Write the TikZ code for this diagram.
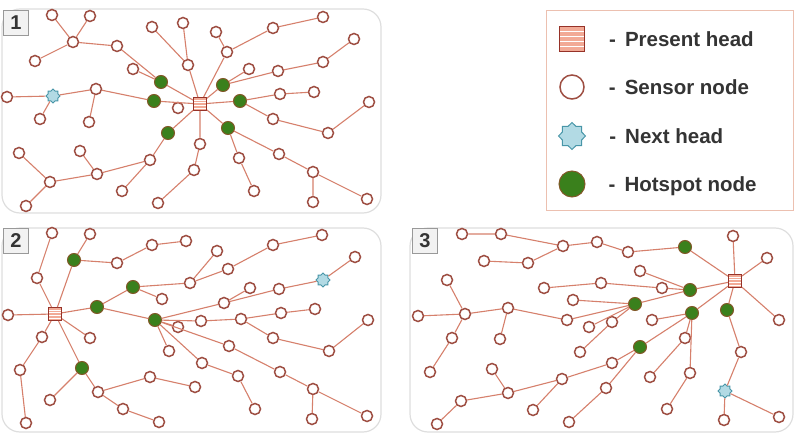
\documentclass[tikz,border=0pt]{standalone}
\usepackage{fontspec}
\setmainfont{Liberation Sans}
\usepackage{xcolor}
\usepackage{tikz}
\usetikzlibrary{shapes.geometric, positioning}
\definecolor{wsnedge}{RGB}{214,128,108}
\definecolor{wsnring}{RGB}{158,78,66}
\definecolor{wsngreen}{RGB}{58,128,28}
\definecolor{wsngreenring}{RGB}{130,88,40}
\definecolor{wsnhead}{RGB}{150,50,40}
\definecolor{wsnheadfill}{RGB}{242,170,150}
\definecolor{wsnstar}{RGB}{72,150,168}
\definecolor{wsnstarfill}{RGB}{178,218,228}
\definecolor{wsnpanel}{RGB}{222,222,222}
\definecolor{wsnlegend}{RGB}{236,192,176}
\definecolor{wsntext}{RGB}{52,52,52}
\tikzset{
  sensor/.style     = {circle, draw=wsnring, line width=1.5pt, fill=white,
                       minimum size=11pt, inner sep=0pt},
  hotspot/.style    = {circle, draw=wsngreenring, line width=1pt, fill=wsngreen,
                       minimum size=13pt, inner sep=0pt},
  headnode/.style   = {rectangle, draw=wsnhead, line width=1pt, fill=wsnheadfill,
                       minimum size=#1, inner sep=0pt,
                       path picture={\foreach \k in {0.2,0.4,0.6,0.8}
                         \draw[white, line width=0.7pt]
                           ([yshift=\k*#1]path picture bounding box.south west) --
                           ([yshift=\k*#1]path picture bounding box.south east);}},
  headnode/.default = 13pt,
  nexthead/.style   = {star, star points=8, star point ratio=1.3, draw=wsnstar,
                       line width=1pt, fill=wsnstarfill, minimum size=#1, inner sep=0pt},
  nexthead/.default = 14pt,
  link/.style       = {draw=wsnedge, line width=1.1pt},
  panel/.style      = {draw=wsnpanel, line width=1.2pt, rounded corners=18pt, fill=white},
  legbox/.style     = {draw=wsnlegend, line width=1pt, fill=white},
  tag/.style        = {rectangle, draw=black!40, line width=1pt, fill=black!5, text=wsntext,
                       minimum size=25pt, inner sep=0pt, font=\fontsize{20}{20}\selectfont\bfseries},
  legtext/.style    = {text=wsntext, inner sep=0pt, text depth=0pt,
                       font=\fontsize{20.5}{24}\selectfont\bfseries},
}
\begin{document}
\begin{tikzpicture}[x=1pt, y=-1pt]
  \useasboundingbox (0,0) rectangle (801,438);
  % frames
  \draw[panel] (2,9) rectangle (381,213);
  \draw[panel] (2,228) rectangle (381,432);
  \draw[panel] (410,228) rectangle (793,432);
  \node[tag] (tag1) at (16,23) {1};
  \node[tag] (tag2) at (16,241) {2};
  \node[tag] (tag3) at (425,241) {3};
  % legend
  \draw[legbox] (546,11) rectangle (793,211);
  \node[headnode=25pt] (lhead) at (572,39) {};
  \node[legtext, right=24pt of lhead] (lheadtx) {-\hspace{9pt}Present head};
  \node[sensor, minimum size=24pt] (lsensor) at (572,87) {};
  \node[legtext, right=24pt of lsensor] (lsensortx) {-\hspace{9pt}Sensor node};
  \node[nexthead=27pt] (lnext) at (572,136) {};
  \node[legtext, right=23pt of lnext] (lnexttx) {-\hspace{9pt}Next head};
  \node[hotspot, minimum size=26pt] (lhot) at (572,184) {};
  \node[legtext, right=23pt of lhot] (lhottx) {-\hspace{9pt}Hotspot node};

  % panel 1
  \node[headnode] (ah) at (200,104) {};
  \node[nexthead] (as) at (53,96) {};
  \node[hotspot] (ag1) at (161,82) {}; \node[hotspot] (ag2) at (154,101) {}; \node[hotspot] (ag3) at (168,133) {};
  \node[hotspot] (ag4) at (223,85) {}; \node[hotspot] (ag5) at (240,101) {}; \node[hotspot] (ag6) at (228,128) {};
  \node[sensor] (a1) at (52,15) {};   \node[sensor] (a2) at (90,16) {};   \node[sensor] (a3) at (73,42) {};
  \node[sensor] (a4) at (117,46) {};  \node[sensor] (a5) at (35,61) {};   \node[sensor] (a6) at (152,27) {};
  \node[sensor] (a7) at (183,23) {};  \node[sensor] (a8) at (188,65) {};  \node[sensor] (a9) at (133,69) {};
  \node[sensor] (a10) at (178,108) {}; \node[sensor] (a11) at (7,97) {};  \node[sensor] (a12) at (96,89) {};
  \node[sensor] (a13) at (40,119) {}; \node[sensor] (a14) at (89,122) {}; \node[sensor] (a15) at (200,144) {};
  \node[sensor] (a16) at (19,153) {}; \node[sensor] (a17) at (80,151) {}; \node[sensor] (a18) at (150,160) {};
  \node[sensor] (a19) at (97,174) {}; \node[sensor] (a20) at (50,182) {}; \node[sensor] (a21) at (194,170) {};
  \node[sensor] (a22) at (122,191) {}; \node[sensor] (a23) at (26,206) {}; \node[sensor] (a24) at (158,203) {};
  \node[sensor] (a25) at (216,32) {}; \node[sensor] (a26) at (227,52) {}; \node[sensor] (a27) at (273,28) {};
  \node[sensor] (a28) at (323,17) {}; \node[sensor] (a29) at (249,69) {}; \node[sensor] (a30) at (278,71) {};
  \node[sensor] (a31) at (323,62) {}; \node[sensor] (a32) at (354,39) {}; \node[sensor] (a33) at (280,94) {};
  \node[sensor] (a34) at (314,92) {}; \node[sensor] (a35) at (273,119) {}; \node[sensor] (a36) at (328,133) {};
  \node[sensor] (a37) at (369,102) {}; \node[sensor] (a38) at (239,158) {}; \node[sensor] (a39) at (279,154) {};
  \node[sensor] (a40) at (254,191) {}; \node[sensor] (a41) at (313,172) {}; \node[sensor] (a42) at (313,202) {};
  \node[sensor] (a43) at (367,199) {};
  \draw[link] (a1)--(a3) (a2)--(a3) (a3)--(a5) (a3)--(a4) (a4)--(ag1) (a9)--(ag1) (ag1)--(ah)
              (a6)--(a8) (a7)--(a8) (a8)--(ah) (a11)--(as) (as)--(a12) (as)--(a13) (a12)--(a14)
              (a12)--(ag2) (ag2)--(ah) (ag3)--(ah) (ag3)--(a18) (a18)--(a19) (a18)--(a22)
              (a19)--(a17) (a19)--(a20) (a20)--(a16) (a20)--(a23) (a15)--(ah) (a15)--(a21) (a21)--(a24)
              (a25)--(a26) (a26)--(a27) (a27)--(a28) (a26)--(ah) (a29)--(ag4) (ag4)--(a30) (a30)--(a31)
              (a31)--(a32) (ag4)--(ah) (ah)--(ag5) (ag5)--(a33) (a33)--(a34) (ag5)--(a35) (a35)--(a36)
              (a36)--(a37) (ah)--(ag6) (ag6)--(a38) (a38)--(a40) (ag6)--(a39) (a39)--(a41) (a41)--(a42)
              (a41)--(a43);

  % panel 2
  \node[headnode] (bh) at (55,314) {};
  \node[nexthead] (bs) at (323,280) {};
  \node[hotspot] (bg1) at (74,260) {}; \node[hotspot] (bg2) at (133,287) {}; \node[hotspot] (bg3) at (97,307) {};
  \node[hotspot] (bg4) at (155,320) {}; \node[hotspot] (bg5) at (82,368) {};
  \node[sensor] (b1) at (52,233) {};  \node[sensor] (b2) at (90,234) {};  \node[sensor] (b3) at (37,278) {};
  \node[sensor] (b4) at (117,263) {}; \node[sensor] (b5) at (152,245) {}; \node[sensor] (b6) at (186,241) {};
  \node[sensor] (b7) at (190,283) {}; \node[sensor] (b8) at (162,299) {}; \node[sensor] (b9) at (8,315) {};
  \node[sensor] (b10) at (178,327) {}; \node[sensor] (b11) at (42,337) {}; \node[sensor] (b12) at (90,338) {};
  \node[sensor] (b13) at (169,351) {}; \node[sensor] (b14) at (20,370) {}; \node[sensor] (b15) at (150,377) {};
  \node[sensor] (b16) at (195,387) {}; \node[sensor] (b17) at (98,392) {}; \node[sensor] (b18) at (50,400) {};
  \node[sensor] (b19) at (123,409) {}; \node[sensor] (b20) at (159,422) {}; \node[sensor] (b21) at (26,423) {};
  \node[sensor] (b22) at (217,251) {}; \node[sensor] (b23) at (228,269) {}; \node[sensor] (b24) at (273,245) {};
  \node[sensor] (b25) at (322,235) {}; \node[sensor] (b26) at (250,288) {}; \node[sensor] (b27) at (279,289) {};
  \node[sensor] (b28) at (355,257) {}; \node[sensor] (b29) at (224,303) {}; \node[sensor] (b30) at (201,321) {};
  \node[sensor] (b31) at (241,319) {}; \node[sensor] (b32) at (281,313) {}; \node[sensor] (b33) at (315,309) {};
  \node[sensor] (b34) at (273,338) {}; \node[sensor] (b35) at (329,351) {}; \node[sensor] (b36) at (368,320) {};
  \node[sensor] (b37) at (229,346) {}; \node[sensor] (b38) at (202,363) {}; \node[sensor] (b39) at (238,376) {};
  \node[sensor] (b40) at (280,372) {}; \node[sensor] (b41) at (255,409) {}; \node[sensor] (b42) at (313,389) {};
  \node[sensor] (b43) at (312,419) {}; \node[sensor] (b44) at (367,416) {};
  \draw[link] (b1)--(b3) (b3)--(bh) (b2)--(bg1) (bg1)--(bh) (bg1)--(b4) (b4)--(b5) (b5)--(b6)
              (bh)--(bg3) (bg3)--(bg2) (bg2)--(b7) (bg2)--(b8) (bg3)--(bg4) (bh)--(b9) (bh)--(b12)
              (bh)--(b11) (b11)--(b14) (b14)--(b21) (bh)--(bg5) (bg5)--(b18) (bg5)--(b17) (b17)--(b15)
              (b15)--(b16) (b17)--(b19) (b19)--(b20) (bg4)--(b10) (bg4)--(b13)
              (b7)--(b22) (b7)--(b23) (b23)--(b24) (b24)--(b25)
              (bg4)--(b29) (b29)--(b26) (b29)--(b27) (b27)--(bs) (bs)--(b28)
              (bg4)--(b30) (b30)--(b31) (b31)--(b32) (b32)--(b33) (b31)--(b34) (b34)--(b35) (b35)--(b36)
              (bg4)--(b37) (b37)--(b40) (b40)--(b42) (b42)--(b43) (b42)--(b44)
              (bg4)--(b38) (b38)--(b39) (b39)--(b41);

  % panel 3
  \node[headnode] (ch) at (735,281) {};
  \node[nexthead] (cs) at (725,391) {};
  \node[hotspot] (cg1) at (685,247) {}; \node[hotspot] (cg2) at (690,290) {}; \node[hotspot] (cg3) at (635,304) {};
  \node[hotspot] (cg4) at (692,313) {}; \node[hotspot] (cg5) at (727,310) {}; \node[hotspot] (cg6) at (640,347) {};
  \node[sensor] (c1) at (462,234) {}; \node[sensor] (c2) at (501,234) {}; \node[sensor] (c3) at (563,246) {};
  \node[sensor] (c4) at (597,242) {}; \node[sensor] (c5) at (484,261) {}; \node[sensor] (c6) at (528,263) {};
  \node[sensor] (c7) at (447,280) {}; \node[sensor] (c8) at (544,288) {}; \node[sensor] (c9) at (601,283) {};
  \node[sensor] (c10) at (573,300) {}; \node[sensor] (c11) at (418,316) {}; \node[sensor] (c12) at (465,314) {};
  \node[sensor] (c13) at (508,308) {}; \node[sensor] (c14) at (567,320) {}; \node[sensor] (c15) at (589,327) {};
  \node[sensor] (c16) at (452,338) {}; \node[sensor] (c17) at (500,339) {}; \node[sensor] (c18) at (580,352) {};
  \node[sensor] (c19) at (430,372) {}; \node[sensor] (c20) at (492,369) {}; \node[sensor] (c21) at (562,379) {};
  \node[sensor] (c22) at (508,393) {}; \node[sensor] (c23) at (606,388) {}; \node[sensor] (c24) at (461,401) {};
  \node[sensor] (c25) at (533,410) {}; \node[sensor] (c26) at (437,424) {}; \node[sensor] (c27) at (569,422) {};
  \node[sensor] (c28) at (628,252) {}; \node[sensor] (c29) at (733,236) {}; \node[sensor] (c30) at (640,271) {};
  \node[sensor] (c31) at (662,288) {}; \node[sensor] (c32) at (767,258) {}; \node[sensor] (c33) at (612,322) {};
  \node[sensor] (c34) at (652,320) {}; \node[sensor] (c35) at (685,338) {}; \node[sensor] (c36) at (779,320) {};
  \node[sensor] (c37) at (741,352) {}; \node[sensor] (c38) at (612,363) {}; \node[sensor] (c39) at (690,373) {};
  \node[sensor] (c40) at (650,377) {}; \node[sensor] (c41) at (667,409) {}; \node[sensor] (c42) at (724,420) {};
  \node[sensor] (c43) at (779,417) {};
  \draw[link] (c1)--(c2) (c2)--(c3) (c3)--(c4) (c3)--(c6) (c6)--(c5) (c4)--(c28) (c28)--(cg1) (cg1)--(ch)
              (c29)--(ch) (c32)--(ch) (ch)--(c36) (ch)--(cg5) (ch)--(cg4) (ch)--(cg2) (cg5)--(c37)
              (c37)--(cs) (cs)--(c42) (cs)--(c43) (c8)--(c9) (c9)--(c31) (c31)--(cg2) (c30)--(cg2)
              (cg3)--(cg2) (c10)--(cg3) (c13)--(c14) (c14)--(cg3) (c15)--(cg3) (c18)--(c33) (c33)--(cg3)
              (c13)--(c12) (c13)--(c17) (c12)--(c11) (c12)--(c7) (c12)--(c16) (c16)--(c19)
              (c20)--(c22) (c22)--(c21) (c22)--(c24) (c24)--(c26) (c21)--(c25) (c21)--(c38) (c38)--(cg6)
              (c27)--(c23) (c23)--(cg6) (cg4)--(c34) (cg4)--(cg6) (cg4)--(c35) (c35)--(c40)
              (cg4)--(c39) (c39)--(c41);
\end{tikzpicture}
\end{document}
